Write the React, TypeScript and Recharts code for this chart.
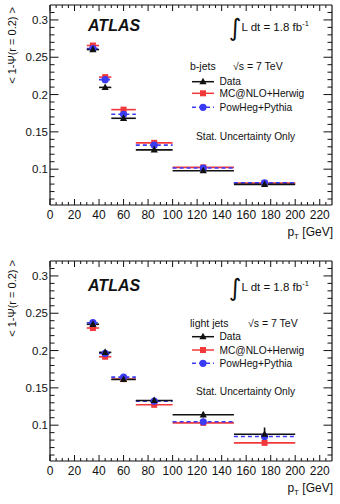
import { ComposedChart, Scatter, ErrorBar, XAxis, YAxis } from 'recharts';

// pT bins: centres and half widths [GeV]
const binCenters = [35, 45, 60, 85, 125, 175];
const binHalfWidths = [5, 5, 10, 15, 25, 25];

// <1 - Psi(r = 0.2)> for b-jets
const bData = [0.2603, 0.2096, 0.1682, 0.1259, 0.0979, 0.0797];
const bDataErr = [0.002, 0.0015, 0.0015, 0.0015, 0.0015, 0.0015];
const bMcatnlo = [0.2657, 0.2234, 0.1798, 0.1353, 0.1024, 0.0815];
const bPowheg = [0.2617, 0.22, 0.1736, 0.1322, 0.1015, 0.0817];

// <1 - Psi(r = 0.2)> for light jets
const lightData = [0.2352, 0.1976, 0.1613, 0.1331, 0.1139, 0.0879];
const lightDataErr = [0.001, 0.001, 0.001, 0.001, 0.0036, 0.009];
const lightMcatnlo = [0.2302, 0.1917, 0.1617, 0.1273, 0.1031, 0.0763];
const lightPowheg = [0.2373, 0.1962, 0.1644, 0.1322, 0.1045, 0.0848];

const xTicks = [
  0, 5, 10, 15, 20, 25, 30, 35, 40, 45, 50, 55, 60, 65, 70, 75, 80, 85, 90, 95, 100, 105, 110, 115,
  120, 125, 130, 135, 140, 145, 150, 155, 160, 165, 170, 175, 180, 185, 190, 195, 200, 205, 210,
  215, 220, 225,
];
const xMajor = [0, 20, 40, 60, 80, 100, 120, 140, 160, 180, 200, 220];
const yTicks = [
  0.06, 0.07, 0.08, 0.09, 0.1, 0.11, 0.12, 0.13, 0.14, 0.15, 0.16, 0.17, 0.18, 0.19, 0.2, 0.21,
  0.22, 0.23, 0.24, 0.25, 0.26, 0.27, 0.28, 0.29, 0.3, 0.31,
];
const yMajor = [0.1, 0.15, 0.2, 0.25, 0.3];
const yMajorLabels = ['0.1', '0.15', '0.2', '0.25', '0.3'];

const FONT = '"Liberation Sans", Arial, Helvetica, sans-serif';
const RED = '#f2383a';
const BLUE = '#3b3bf5';
const BLACK = '#111111';

const rows = (vals: number[], errs?: number[]) =>
  vals.map((v, i) => ({ x: binCenters[i], y: v, xerr: binHalfWidths[i], yerr: errs ? errs[i] : 0 }));

// inward ticks on all four sides, labels only on bottom / left
const XTick = ({ x, y, payload, side }: any) => {
  const major = xMajor.includes(payload.value);
  const len = major ? 6 : 3;
  const dir = side === 'bottom' ? -1 : 1;
  return (
    <g>
      <line x1={x} x2={x} y1={y} y2={y + dir * len} stroke={BLACK} strokeWidth={1} />
      {side === 'bottom' && major && (
        <text x={x} y={y + 14} textAnchor="middle" fontSize={12} fontFamily={FONT} fill={BLACK}>
          {payload.value}
        </text>
      )}
    </g>
  );
};

const YTick = ({ x, y, payload, side }: any) => {
  const idx = yMajor.indexOf(payload.value);
  const len = idx >= 0 ? 8.5 : 4.5;
  const dir = side === 'left' ? 1 : -1;
  return (
    <g>
      <line x1={x} x2={x + dir * len} y1={y} y2={y} stroke={BLACK} strokeWidth={1} />
      {side === 'left' && idx >= 0 && (
        <text x={x - 2} y={y + 4} textAnchor="end" fontSize={11.5} fontFamily={FONT} fill={BLACK}>
          {yMajorLabels[idx]}
        </text>
      )}
    </g>
  );
};

const Square = ({ cx, cy }: any) => <rect x={cx - 3} y={cy - 3} width={6} height={6} fill={RED} />;
const Circle = ({ cx, cy }: any) => <circle cx={cx} cy={cy} r={3.6} fill={BLUE} />;
const Triangle = ({ cx, cy }: any) => (
  <polygon points={`${cx},${cy - 4} ${cx + 3.6},${cy + 2.6} ${cx - 3.6},${cy + 2.6}`} fill={BLACK} />
);

type PanelProps = {
  data: number[];
  dataErr: number[];
  mcatnlo: number[];
  powheg: number[];
  jetLabel: string;
  sqrtX: number;
  layout: { atlas: number; lumi: number; jet: number; entries: number[]; stat: number; titleTop: number };
};

const Panel = ({ data, dataErr, mcatnlo, powheg, jetLabel, sqrtX, layout }: PanelProps) => {
  const entries = [
    { label: 'Data', color: BLACK, dash: undefined, marker: 'tri' },
    { label: 'MC@NLO+Herwig', color: RED, dash: undefined, marker: 'sq' },
    { label: 'PowHeg+Pythia', color: BLUE, dash: '4 3', marker: 'ci' },
  ];
  return (
    <div style={{ position: 'relative', width: 340, height: 248 }}>
      <ComposedChart width={340} height={248} margin={{ top: 4, right: 7, bottom: 13, left: 0 }}>
        <XAxis
          xAxisId="b"
          dataKey="x"
          type="number"
          domain={[0, 230]}
          allowDataOverflow
          ticks={xTicks}
          interval={0}
          tickSize={0}
          tickMargin={0}
          tickLine={false}
          height={30}
          axisLine={{ stroke: BLACK, strokeWidth: 1.2 }}
          tick={<XTick side="bottom" />}
        />
        <XAxis
          xAxisId="t"
          orientation="top"
          dataKey="x"
          type="number"
          domain={[0, 230]}
          allowDataOverflow
          ticks={xTicks}
          interval={0}
          tickSize={0}
          tickMargin={0}
          tickLine={false}
          height={1}
          axisLine={{ stroke: BLACK, strokeWidth: 1.2 }}
          tick={<XTick side="top" />}
        />
        <YAxis
          yAxisId="l"
          dataKey="y"
          type="number"
          domain={[0.052, 0.32]}
          allowDataOverflow
          ticks={yTicks}
          interval={0}
          tickSize={0}
          tickMargin={0}
          tickLine={false}
          width={50}
          axisLine={{ stroke: BLACK, strokeWidth: 1.2 }}
          tick={<YTick side="left" />}
        />
        <YAxis
          yAxisId="r"
          orientation="right"
          dataKey="y"
          type="number"
          domain={[0.052, 0.32]}
          allowDataOverflow
          ticks={yTicks}
          interval={0}
          tickSize={0}
          tickMargin={0}
          tickLine={false}
          width={1}
          axisLine={{ stroke: BLACK, strokeWidth: 1.2 }}
          tick={<YTick side="right" />}
        />
        <Scatter xAxisId="b" yAxisId="l" data={rows(mcatnlo)} dataKey="y" shape={<Square />} isAnimationActive={false}>
          <ErrorBar dataKey="xerr" direction="x" width={0} stroke={RED} strokeWidth={1.6} />
        </Scatter>
        <Scatter xAxisId="b" yAxisId="l" data={rows(powheg)} dataKey="y" shape={<Circle />} isAnimationActive={false}>
          <ErrorBar dataKey="xerr" direction="x" width={0} stroke={BLUE} strokeWidth={1.6} strokeDasharray="4 3" />
        </Scatter>
        <Scatter xAxisId="b" yAxisId="l" data={rows(data, dataErr)} dataKey="y" shape={<Triangle />} isAnimationActive={false}>
          <ErrorBar dataKey="xerr" direction="x" width={0} stroke={BLACK} strokeWidth={1.6} />
          <ErrorBar dataKey="yerr" direction="y" width={0} stroke={BLACK} strokeWidth={1.6} />
        </Scatter>
      </ComposedChart>
      <svg
        width={340}
        height={248}
        style={{ position: 'absolute', left: 0, top: 0, pointerEvents: 'none' }}
        fontFamily={FONT}
      >
        <text x={16} y={layout.titleTop} transform={`rotate(-90 16 ${layout.titleTop})`} textAnchor="end" fontSize={11} fill={BLACK}>
          {'< 1-Ψ(r = 0.2) >'}
        </text>
        <text x={88} y={layout.atlas} fontSize={16} fontWeight="bold" fontStyle="italic" fill={BLACK}>
          ATLAS
        </text>
        <text x={229} y={layout.lumi + 5} fontSize={24} fontFamily="DejaVu Sans" fill={BLACK}>
          ∫
        </text>
        <text x={241.5} y={layout.lumi} fontSize={11.5} fill={BLACK}>
          L dt = 1.8 fb
          <tspan fontSize={7.5} dy={-5}>-1</tspan>
        </text>
        <text x={190} y={layout.jet} fontSize={10.5} fill={BLACK}>
          {jetLabel}
        </text>
        <text x={sqrtX} y={layout.jet} fontSize={10.5} fill={BLACK}>
          √s = 7 TeV
        </text>
        {entries.map((e, i) => {
          const cy = layout.entries[i];
          return (
            <g key={e.label}>
              <line x1={192} x2={214} y1={cy} y2={cy} stroke={e.color} strokeWidth={1.5} strokeDasharray={e.dash} />
              {e.marker === 'tri' && <Triangle cx={203} cy={cy} />}
              {e.marker === 'sq' && <Square cx={203} cy={cy} />}
              {e.marker === 'ci' && <Circle cx={203} cy={cy} />}
              <text x={219.5} y={cy + 3.7} fontSize={10.2} fill={BLACK}>
                {e.label}
              </text>
            </g>
          );
        })}
        <text x={196} y={layout.stat} fontSize={10.2} fill={BLACK}>
          Stat. Uncertainty Only
        </text>
        <text x={333} y={236} textAnchor="end" fontSize={12} fill={BLACK}>
          p<tspan fontSize={8} dy={3}>T</tspan>
          <tspan dy={-3}> [GeV]</tspan>
        </text>
      </svg>
    </div>
  );
}

export default function App() {
  return (
    <div style={{ position: 'absolute', left: 0, top: 0, width: 340, height: 504, background: '#fff' }}>
      <Panel
        data={bData}
        dataErr={bDataErr}
        mcatnlo={bMcatnlo}
        powheg={bPowheg}
        jetLabel="b-jets"
        sqrtX={233}
        layout={{ atlas: 30.7, lumi: 30.7, jet: 70.4, entries: [81.7, 93.3, 107.3], stat: 139.6, titleTop: 7 }}
      />
      <div style={{ height: 8 }} />
      <Panel
        data={lightData}
        dataErr={lightDataErr}
        mcatnlo={lightMcatnlo}
        powheg={lightPowheg}
        jetLabel="light jets"
        sqrtX={248}
        layout={{ atlas: 35.2, lumi: 34.7, jet: 71, entries: [80.7, 94, 107.3], stat: 139.3, titleTop: 4 }}
      />
    </div>
  );
}
